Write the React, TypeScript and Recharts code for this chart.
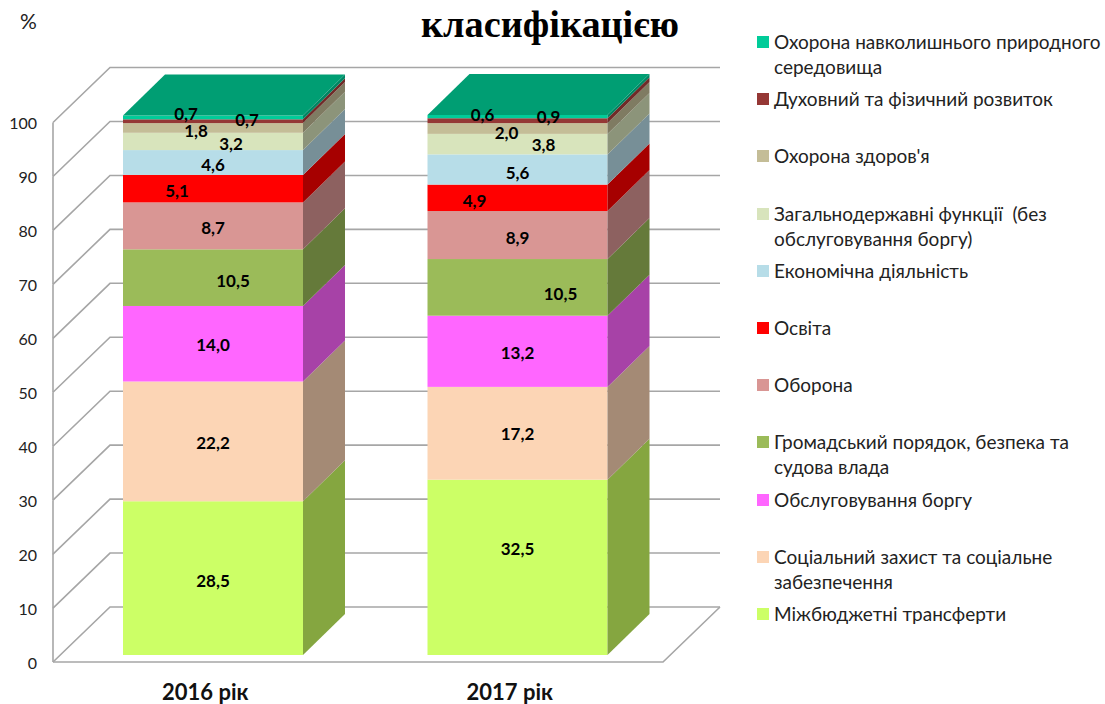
import { BarChart, Bar, XAxis, YAxis, Legend, LabelList, CartesianGrid } from "recharts";

const categories = ["2016 рік", "2017 рік"];
const yTicks = [0, 10, 20, 30, 40, 50, 60, 70, 80, 90, 100];

const transfers = [28.5, 32.5];
const social = [22.2, 17.2];
const debt = [14.0, 13.2];
const publicOrder = [10.5, 10.5];
const defence = [8.7, 8.9];
const education = [5.1, 4.9];
const economy = [4.6, 5.6];
const generalFunctions = [3.2, 3.8];
const health = [1.8, 2.0];
const spiritual = [0.7, 0.9];
const environment = [0.7, 0.6];

const series = [
  { key: "transfers", name: "Міжбюджетні трансферти", values: transfers, color: "#ccff66", side: "#85a640" },
  { key: "social", name: "Соціальний захист та соціальне забезпечення", values: social, color: "#fcd5b5", side: "#a48a75" },
  { key: "debt", name: "Обслуговування боргу", values: debt, color: "#ff66ff", side: "#a742a7" },
  { key: "publicOrder", name: "Громадський порядок, безпека та судова влада", values: publicOrder, color: "#9bbb59", side: "#657a3a" },
  { key: "defence", name: "Оборона", values: defence, color: "#d99694", side: "#8d6160" },
  { key: "education", name: "Освіта", values: education, color: "#ff0000", side: "#a60000" },
  { key: "economy", name: "Економічна діяльність", values: economy, color: "#b7dde8", side: "#778f97" },
  { key: "generalFunctions", name: "Загальнодержавні функції  (без обслуговування боргу)", values: generalFunctions, color: "#d8e4bc", side: "#8c947a" },
  { key: "health", name: "Охорона здоров'я", values: health, color: "#c4bd97", side: "#7f7b62" },
  { key: "spiritual", name: "Духовний та фізичний розвиток", values: spiritual, color: "#953735", side: "#702a28" },
  { key: "environment", name: "Охорона навколишнього природного середовища", values: environment, color: "#00cc99", side: "#008563" },
];

const chartData = categories.map((category, i) => {
  const row: any = { category };
  series.forEach((s) => {
    row[s.key] = s.values[i];
  });
  return row;
});

// hand placed label offsets, [dx, dy] per year, same order as series
const labelShifts: Record<string, number[][]> = {
  transfers: [[0, 2], [0, -19]],
  social: [[0, 1], [0, 0]],
  debt: [[0, 1], [0, 1]],
  publicOrder: [[20, 3], [43, 6]],
  defence: [[0, 2], [0, 2]],
  education: [[-36, 2], [-43, 3]],
  economy: [[0, 2], [0, 3]],
  generalFunctions: [[18, 2], [26, 0]],
  health: [[-17, 3], [-11, 4]],
  spiritual: [[34, -2], [31, -4]],
  environment: [[-27, -4], [-35, -2]],
};

const FONT = "Lato, 'Open Sans', sans-serif";
const GRID = "#a6a6a6";
const DEPTH_X = 42;
const DEPTH_Y = 41;
const WALL_LEFT = 53;
const WALL_DROP = 7;
const WALL_X = 57;
const WALL_Y = 55;
const WALL_RIGHT = 720;
const FLOOR_RIGHT = 663;

const Cuboid = (props: any) => {
  const { x, y, width, height, fill, side, top } = props;
  const r = x + width;
  const b = y + height;
  return (
    <g>
      <rect x={x} y={y} width={width} height={height} fill={fill} />
      <polygon
        points={`${r},${b} ${r},${y} ${r + DEPTH_X},${y - DEPTH_Y} ${r + DEPTH_X},${b - DEPTH_Y}`}
        fill={side}
      />
      {top && (
        <polygon
          points={`${x},${y} ${r},${y} ${r + DEPTH_X},${y - DEPTH_Y} ${x + DEPTH_X},${y - DEPTH_Y}`}
          fill={top}
        />
      )}
    </g>
  );
};

// gridline drawn as a 3d wall: side wall, back wall, and the floor at value 0
const WallLine = (props: any) => {
  const { y1, y, height } = props;
  const wy = y1 + WALL_DROP;
  const isZero = Math.abs(y1 - (y + height)) < 0.5;
  const step = height / 10;
  return (
    <g key={`wall-${y1}`} fill="none" stroke={GRID} strokeWidth={1.6}>
      {!isZero && <line x1={WALL_LEFT} y1={wy} x2={WALL_LEFT} y2={wy + step} />}
      <polyline
        points={`${WALL_LEFT},${wy} ${WALL_LEFT + WALL_X},${wy - WALL_Y} ${WALL_RIGHT},${wy - WALL_Y}`}
      />
      {isZero && (
        <polyline points={`${WALL_LEFT},${wy} ${FLOOR_RIGHT},${wy} ${WALL_RIGHT},${wy - WALL_Y}`} />
      )}
    </g>
  );
};

const YTick = (props: any) => {
  const { y, payload } = props;
  return (
    <text x={37} y={y + WALL_DROP} textAnchor="end" dominantBaseline="central" fontFamily={FONT} fontSize={16} fill="#222">
      {payload.value}
    </text>
  );
};

const XTick = (props: any) => {
  const { x, y, payload } = props;
  return (
    <text x={x - 8} y={y + 28} textAnchor="middle" dominantBaseline="central" fontFamily={FONT} fontSize={22} fontWeight={700} fill="#111">
      {payload.value}
    </text>
  );
};

const renderLegend = ({ payload }: any) => (
  <div style={{ fontFamily: FONT, fontSize: 19, lineHeight: "25px", color: "#222" }}>
    {[...payload].reverse().map((item: any) => (
      <div key={item.value} style={{ height: 57.2, display: "flex", whiteSpace: "pre-wrap" }}>
        <span style={{ width: 12, height: 12, marginTop: 7, marginRight: 5, flex: "none", background: item.color }} />
        <span>{item.value}</span>
      </div>
    ))}
  </div>
);

export default function App() {
  return (
    <div style={{ position: "absolute", left: 0, top: 0, width: 1105, height: 704, background: "#fff", overflow: "hidden" }}>
      <div
        style={{
          position: "absolute",
          left: 421,
          top: 1,
          fontFamily: "'Liberation Serif', serif",
          fontWeight: "bold",
          fontSize: 38.3,
          lineHeight: "46px",
          color: "#000",
        }}
      >
        класифікацією
      </div>
      <div style={{ position: "absolute", left: 20, top: 8, fontFamily: FONT, fontSize: 21, color: "#222" }}>%</div>
      <BarChart
        width={1105}
        height={704}
        data={chartData}
        margin={{ top: 115, right: 435, bottom: 0, left: 0 }}
        barSize={180}
      >
        <CartesianGrid vertical={false} horizontal={(p: any) => <WallLine {...p} />} syncWithTicks />
        <XAxis dataKey="category" height={49} axisLine={false} tickLine={false} tick={<XTick />} />
        <YAxis
          width={61}
          domain={[0, 100]}
          ticks={yTicks}
          interval={0}
          axisLine={false}
          tickLine={false}
          tick={<YTick />}
        />
        <Legend
          layout="vertical"
          align="center"
          verticalAlign="middle"
          itemSorter={null}
          content={renderLegend}
          wrapperStyle={{ left: 757, top: 29, width: 348, height: 640 }}
        />
        {series.map((s) => (
          <Bar
            key={s.key}
            dataKey={s.key}
            name={s.name}
            stackId="budget"
            fill={s.color}
            isAnimationActive={false}
            shape={(p: any) => (
              <Cuboid {...p} side={s.side} top={s.key === "environment" ? "#009e73" : undefined} />
            )}
          >
            <LabelList
              dataKey={s.key}
              content={(p: any) => {
                const [dx, dy] = labelShifts[s.key][p.index];
                return (
                  <text
                    x={p.x + p.width / 2 + dx}
                    y={p.y + p.height / 2 + dy}
                    textAnchor="middle"
                    dominantBaseline="central"
                    fontFamily={FONT}
                    fontSize={17}
                    fontWeight={700}
                    fill="#000"
                  >
                    {Number(p.value).toFixed(1).replace(".", ",")}
                  </text>
                );
              }}
            />
          </Bar>
        ))}
      </BarChart>
    </div>
  );
}
